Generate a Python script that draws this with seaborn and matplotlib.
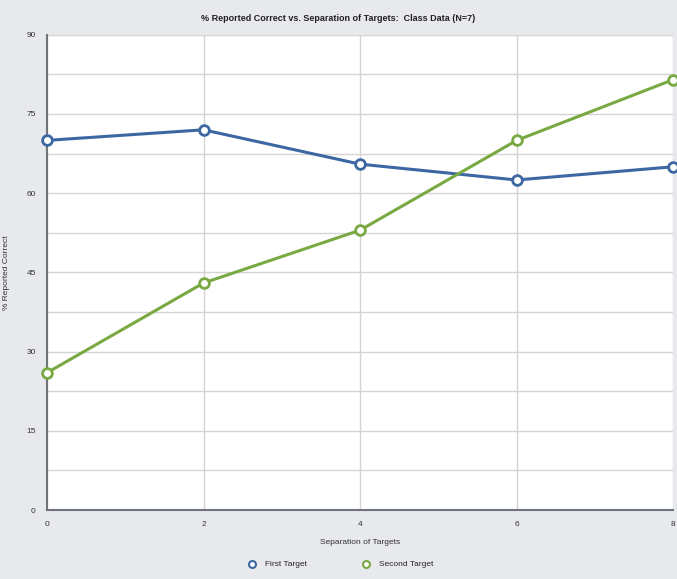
import matplotlib
matplotlib.use("Agg")
import matplotlib.pyplot as plt
import seaborn as sns
import pandas as pd
from matplotlib.lines import Line2D

# Values
separation = [0, 2, 4, 6, 8]
first_target = [70, 72, 65.5, 62.5, 65]
second_target = [26, 43, 53, 70, 81.5]
series_names = ["First Target", "Second Target"]
colors = {"First Target": "#3d67a3", "Second Target": "#78a942"}

df = pd.DataFrame({
    "Separation of Targets": separation * 2,
    "% Reported Correct": first_target + second_target,
    "series": [series_names[0]] * len(separation) + [series_names[1]] * len(separation),
})

sns.set_style("white")
plt.rcParams["font.family"] = ["Liberation Sans", "DejaVu Sans"]

fig = plt.figure(figsize=(6.77, 5.79), dpi=100)
fig.patch.set_facecolor("#e7e9ed")
ax = fig.add_axes([0.0694, 0.119, 0.925, 0.821])
ax.set_facecolor("white")

sns.lineplot(data=df, x="Separation of Targets", y="% Reported Correct", hue="series",
             palette=colors, marker="o", markersize=7, markerfacecolor="white",
             markeredgewidth=2, linewidth=2.2, legend=False, ax=ax, zorder=3)

# seaborn paints marker edges white; give them the line colour and let them overhang
for line in ax.lines:
    line.set_markeredgecolor(line.get_color())
    line.set_clip_on(False)

ax.set_xlim(0, 8)
ax.set_ylim(0, 90)
ax.set_xticks([0, 2, 4, 6, 8])
ax.set_yticks([0, 15, 30, 45, 60, 75, 90])
ax.set_yticks([7.5, 22.5, 37.5, 52.5, 67.5, 82.5], minor=True)
ax.grid(True, which="both", axis="y", color="#d4d4d4", linewidth=1)
ax.grid(True, which="major", axis="x", color="#d4d4d4", linewidth=1)
ax.tick_params(axis="both", which="both", length=0, labelsize=6, colors="#333333", pad=8)

for side in ["top", "right"]:
    ax.spines[side].set_visible(False)
for side in ["left", "bottom"]:
    ax.spines[side].set_color("#6f7479")
    ax.spines[side].set_linewidth(1.5)

ax.set_xlabel("Separation of Targets", fontsize=6, color="#333333", labelpad=8)
ax.set_ylabel("% Reported Correct", fontsize=6, color="#333333", labelpad=12)
fig.suptitle("% Reported Correct vs. Separation of Targets:  Class Data (N=7)",
             fontsize=6.5, fontweight="bold", color="#222222", y=0.975)

handles = [Line2D([], [], linestyle="none", marker="o", markersize=5,
                  markerfacecolor="white", markeredgecolor=colors[n], markeredgewidth=1.5)
           for n in series_names]
fig.legend(handles, series_names, loc="center", bbox_to_anchor=(0.5, 0.025), ncol=2,
           frameon=False, fontsize=6, columnspacing=6, handletextpad=0.6)

fig.savefig("out.png", dpi=100, facecolor=fig.get_facecolor())
